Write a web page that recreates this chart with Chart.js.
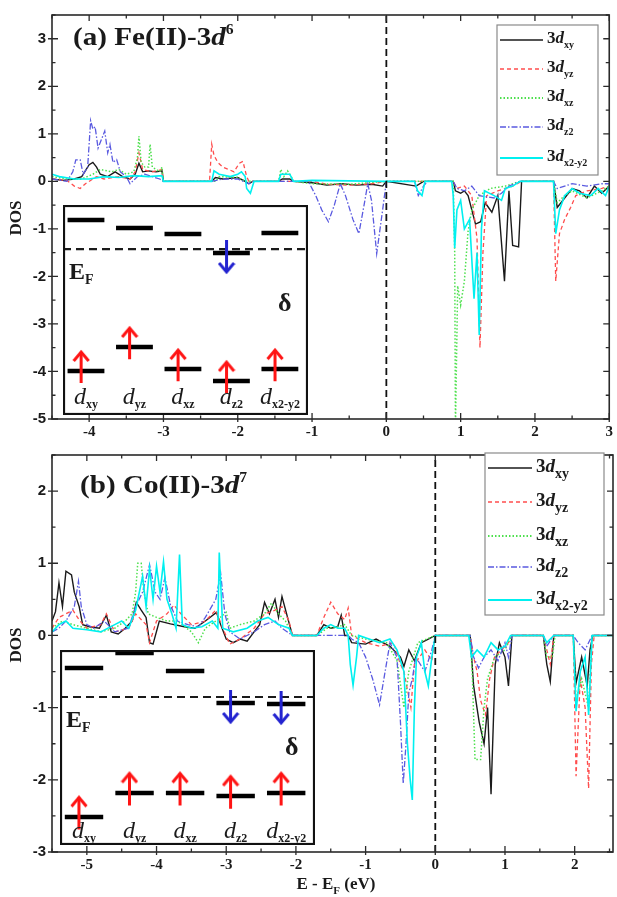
<!DOCTYPE html>
<html>
<head>
<meta charset="utf-8">
<script src="https://cdn.jsdelivr.net/npm/chart.js@4.4.0/dist/chart.umd.min.js"></script>
<style>
html, body { margin: 0; padding: 0; background: #fff; }
#wrap { position: relative; width: 617px; height: 897px; overflow: hidden; }
canvas { position: absolute; }
</style>
</head>
<body>
<div id="wrap">
  <canvas id="chartA" width="617" height="445" style="left:0;top:0"></canvas>
  <canvas id="chartB" width="617" height="457" style="left:0;top:440px"></canvas>
  <canvas id="insetA" width="245" height="210" style="left:63px;top:205px"></canvas>
  <canvas id="insetB" width="255" height="195" style="left:60px;top:650px"></canvas>
</div>
<script>
// PDOS of the 3d orbitals: [E - EF (eV), DOS]
const orbitals = ['xy', 'yz', 'xz', 'z2', 'x2-y2'];

// (a) Fe(II)-3d6
const feXY = [[-4.5,0.05],[-4.35,0.02],[-4.2,0.05],[-4.1,0.1],[-4.0,0.35],[-3.95,0.4],[-3.9,0.3],[-3.85,0.15],[-3.75,0.1],[-3.65,0.2],[-3.55,0.1],[-3.45,0.05],[-3.38,0.15],[-3.33,0.38],[-3.28,0.2],[-3.2,0.22],[-3.1,0.2],[-3.02,0.22],[-3.0,0],[-2.35,0],[-2.3,0.08],[-2.2,0.05],[-2.0,0.08],[-1.9,0.0],[-1.85,-0.05],[-1.8,0],[-1.45,0],[-1.4,0.05],[-1.3,0.05],[-1.25,0],[-1.0,-0.03],[-0.8,-0.08],[-0.6,-0.05],[-0.4,-0.08],[-0.2,-0.06],[-0.05,-0.1],[0,0],[0.4,-0.1],[0.5,0],[0.9,0],[0.93,-0.2],[1.0,-0.25],[1.05,-0.2],[1.1,-0.3],[1.2,-0.9],[1.27,-0.85],[1.33,-0.45],[1.42,-0.65],[1.5,-0.3],[1.59,-2.1],[1.65,-0.2],[1.7,-1.35],[1.78,-1.38],[1.82,0],[2.25,0],[2.3,-0.55],[2.4,-0.35],[2.5,-0.15],[2.6,-0.2],[2.7,-0.35],[2.8,-0.1],[2.9,-0.25],[3.0,-0.1]];
const feYZ = [[-4.5,0.05],[-4.3,0.02],[-4.2,-0.1],[-4.12,-0.15],[-4.05,-0.05],[-3.9,0.1],[-3.8,0.05],[-3.6,0.1],[-3.45,0.05],[-3.38,0.2],[-3.33,0.6],[-3.28,0.25],[-3.15,0.2],[-3.02,0.25],[-3.0,0],[-2.38,0],[-2.35,0.78],[-2.32,0.55],[-2.27,0.4],[-2.2,0.3],[-2.12,0.25],[-2.05,0.2],[-1.98,0.38],[-1.93,0.42],[-1.88,0.1],[-1.85,0],[-1.0,0],[-0.8,-0.06],[-0.5,-0.08],[-0.2,-0.05],[0,0],[0.9,0],[0.95,-0.15],[1.05,-0.1],[1.15,-0.3],[1.22,-1.2],[1.26,-3.5],[1.3,-1.5],[1.35,-0.3],[1.5,-0.2],[1.7,-0.1],[1.82,0],[2.25,0],[2.28,-2.1],[2.33,-1.1],[2.4,-0.8],[2.48,-0.55],[2.55,-0.3],[2.7,-0.2],[2.9,-0.15],[3.0,-0.1]];
const feXZ = [[-4.5,0.1],[-4.3,0.05],[-4.1,0.05],[-3.95,0.15],[-3.85,0.25],[-3.7,0.2],[-3.6,0.25],[-3.5,0.15],[-3.4,0.2],[-3.35,0.5],[-3.33,0.95],[-3.3,0.4],[-3.25,0.3],[-3.2,0.3],[-3.18,0.78],[-3.15,0.3],[-3.05,0.2],[-3.02,0.3],[-3.0,0],[-2.3,0],[-2.25,0.1],[-2.0,0.08],[-1.9,0],[-1.45,0],[-1.42,0.25],[-1.38,0.1],[-1.33,0.22],[-1.28,0.1],[-1.25,0],[-1.0,-0.05],[-0.5,-0.06],[0,0],[0.9,0],[0.92,-1.5],[0.93,-5.2],[0.96,-2.2],[1.0,-2.6],[1.05,-2.1],[1.1,-1.05],[1.15,-0.6],[1.25,-0.3],[1.4,-0.15],[1.6,-0.1],[1.8,0],[2.25,0],[2.3,-0.45],[2.4,-0.3],[2.5,-0.2],[2.7,-0.35],[2.9,-0.2],[3.0,-0.1]];
const feZ2 = [[-4.5,0.05],[-4.3,0.0],[-4.22,0.2],[-4.18,0.45],[-4.12,0.45],[-4.08,0.15],[-4.02,0.3],[-3.98,1.28],[-3.95,1.1],[-3.92,1.15],[-3.88,0.7],[-3.83,0.9],[-3.79,1.06],[-3.75,0.6],[-3.72,0.78],[-3.68,0.4],[-3.63,0.46],[-3.58,0.2],[-3.5,0.1],[-3.45,-0.05],[-3.35,0.1],[-3.25,0.15],[-3.15,0.1],[-3.05,0.05],[-3.0,0],[-2.35,0],[-2.2,0.05],[-2.0,0.05],[-1.85,-0.05],[-1.8,0],[-1.05,0],[-0.95,-0.3],[-0.87,-0.6],[-0.78,-0.85],[-0.7,-0.5],[-0.62,-0.05],[-0.55,-0.3],[-0.45,-0.8],[-0.37,-1.1],[-0.3,-0.5],[-0.25,-0.05],[-0.2,-0.4],[-0.13,-1.52],[-0.05,-0.6],[0,0],[0.38,0],[0.43,-0.3],[0.5,-0.1],[0.55,0],[0.9,0],[0.95,-0.15],[1.05,-0.2],[1.15,-0.1],[1.25,-0.3],[1.45,-0.35],[1.55,-0.25],[1.65,-0.1],[1.8,0],[2.25,0],[2.3,-0.15],[2.5,-0.05],[2.7,-0.1],[2.9,-0.05],[3.0,-0.05]];
const feX2Y2 = [[-4.5,0.15],[-4.4,0.1],[-4.2,0.05],[-4.0,0.05],[-3.8,0.1],[-3.6,0.08],[-3.4,0.12],[-3.2,0.1],[-3.02,0.12],[-3.0,0],[-2.35,0],[-2.32,0.22],[-2.25,0.15],[-2.1,0.1],[-2.0,0.15],[-1.95,0.2],[-1.9,0.1],[-1.88,-0.15],[-1.83,-0.25],[-1.8,-0.1],[-1.78,0],[-1.45,0],[-1.42,0.15],[-1.3,0.15],[-1.25,0],[-1.0,0.02],[0,0],[0.38,0],[0.42,-0.2],[0.48,-0.3],[0.52,0],[0.88,0],[0.9,-0.3],[0.92,-1.4],[0.95,-0.6],[1.0,-0.4],[1.05,-1.0],[1.12,-0.8],[1.18,-2.47],[1.22,-1.5],[1.25,-3.23],[1.28,-1.0],[1.32,-0.2],[1.45,-0.3],[1.55,-0.4],[1.6,-0.15],[1.7,-0.1],[1.8,0],[2.25,0],[2.28,-1.1],[2.33,-0.6],[2.4,-0.3],[2.5,-0.15],[2.6,-0.25],[2.75,-0.3],[2.85,-0.15],[2.95,-0.3],[3.0,-0.1]];

// (b) Co(II)-3d7
const coXY = [[-5.5,0.2],[-5.45,0.33],[-5.4,0.73],[-5.35,0.4],[-5.3,0.89],[-5.22,0.84],[-5.18,0.6],[-5.11,0.4],[-5.06,0.15],[-4.96,0.12],[-4.82,0.1],[-4.72,0.28],[-4.65,0.05],[-4.55,0.02],[-4.45,0.1],[-4.35,0.2],[-4.29,0.46],[-4.22,0.35],[-4.15,0.25],[-4.1,-0.1],[-4.05,-0.12],[-3.96,0.2],[-3.8,0.16],[-3.6,0.12],[-3.45,0.1],[-3.3,0.2],[-3.14,0.32],[-3.08,0.15],[-3.0,-0.05],[-2.9,-0.1],[-2.8,-0.05],[-2.7,-0.08],[-2.6,0.05],[-2.52,0.15],[-2.45,0.46],[-2.38,0.3],[-2.3,0.5],[-2.25,0.25],[-2.2,0.54],[-2.12,0.25],[-2.05,0.0],[-1.7,0],[-1.6,0.15],[-1.5,0.1],[-1.4,0.12],[-1.35,0.28],[-1.3,0],[-1.25,0],[-1.2,-0.1],[-1.0,-0.12],[-0.85,-0.05],[-0.65,-0.15],[-0.5,-0.3],[-0.45,-0.43],[-0.38,-0.2],[-0.3,-0.35],[-0.2,-0.1],[-0.1,-0.05],[0,0],[0.5,0],[0.55,-0.7],[0.63,-1.2],[0.7,-1.5],[0.75,-1.0],[0.8,-2.2],[0.86,-0.4],[0.92,-0.1],[1.0,-0.3],[1.05,-0.7],[1.1,0],[1.55,0],[1.6,-0.4],[1.65,-0.64],[1.7,0],[1.98,0],[2.02,-0.66],[2.1,-0.3],[2.18,-0.7],[2.22,-0.2],[2.26,0],[2.55,0]];
const coYZ = [[-5.5,0.1],[-5.4,0.25],[-5.3,0.3],[-5.2,0.35],[-5.1,0.2],[-5.0,0.1],[-4.8,0.15],[-4.72,0.3],[-4.6,0.05],[-4.4,0.1],[-4.3,0.3],[-4.15,0.15],[-4.1,-0.1],[-4.0,0.2],[-3.85,0.3],[-3.75,0.42],[-3.65,0.3],[-3.5,0.15],[-3.3,0.2],[-3.15,0.35],[-3.05,0.1],[-2.95,-0.12],[-2.8,-0.05],[-2.6,0.1],[-2.45,0.3],[-2.3,0.35],[-2.2,0.4],[-2.1,0.2],[-2.05,0],[-1.7,0],[-1.6,0.25],[-1.5,0.46],[-1.4,0.3],[-1.3,0.22],[-1.25,0.38],[-1.2,0],[-1.0,-0.1],[-0.8,-0.15],[-0.6,-0.1],[-0.5,-0.4],[-0.45,-0.5],[-0.35,-1.0],[-0.3,-0.4],[-0.15,-0.2],[-0.05,-0.35],[0,0],[0.5,0],[0.55,-0.3],[0.6,-0.5],[0.65,-0.9],[0.72,-1.1],[0.78,-0.6],[0.85,-0.3],[0.95,-0.2],[1.05,-0.1],[1.1,0],[1.55,0],[1.6,-0.2],[1.65,-0.4],[1.7,0],[1.98,0],[2.02,-1.95],[2.08,-0.6],[2.15,-1.0],[2.2,-2.12],[2.24,-0.4],[2.28,0],[2.55,0]];
const coXZ = [[-5.5,0.1],[-5.35,0.2],[-5.2,0.15],[-5.0,0.1],[-4.8,0.05],[-4.6,0.1],[-4.45,0.2],[-4.35,0.3],[-4.3,0.6],[-4.27,1.0],[-4.22,1.0],[-4.18,0.6],[-4.12,0.3],[-4.0,0.25],[-3.85,0.2],[-3.7,0.2],[-3.5,0.05],[-3.4,-0.1],[-3.3,0.1],[-3.15,0.2],[-3.0,0.32],[-2.95,0.1],[-2.8,0.15],[-2.6,0.2],[-2.45,0.3],[-2.35,0.45],[-2.25,0.3],[-2.15,0.2],[-2.05,0],[-1.7,0],[-1.55,0.1],[-1.4,0.12],[-1.3,0.15],[-1.2,0],[-1.0,-0.05],[-0.7,-0.1],[-0.55,-0.35],[-0.45,-1.0],[-0.38,-0.5],[-0.25,-0.1],[0,0],[0.5,0],[0.53,-0.5],[0.57,-1.72],[0.65,-1.72],[0.7,-1.0],[0.75,-0.6],[0.85,-0.3],[1.0,-0.2],[1.1,0],[1.55,0],[1.6,-0.3],[1.68,-0.3],[1.72,0],[1.98,0],[2.02,-0.9],[2.1,-0.6],[2.2,-1.0],[2.25,0],[2.55,0]];
const coZ2 = [[-5.5,0.05],[-5.4,0.1],[-5.3,0.2],[-5.18,0.4],[-5.12,0.75],[-5.08,0.4],[-5.0,0.15],[-4.9,0.1],[-4.75,0.2],[-4.6,0.05],[-4.4,0.1],[-4.3,0.4],[-4.2,0.6],[-4.1,0.98],[-4.02,0.6],[-3.95,0.5],[-3.88,0.8],[-3.8,0.42],[-3.7,0.2],[-3.55,0.15],[-3.4,0.12],[-3.3,0.25],[-3.15,0.5],[-3.08,0.86],[-3.02,0.3],[-2.95,0.05],[-2.8,-0.05],[-2.6,0.05],[-2.45,0.15],[-2.3,0.2],[-2.2,0.1],[-2.05,0],[-1.25,0],[-1.2,-0.05],[-1.1,-0.1],[-1.0,-0.3],[-0.9,-0.6],[-0.8,-0.96],[-0.72,-0.5],[-0.65,-0.1],[-0.55,-0.3],[-0.5,-1.2],[-0.46,-2.05],[-0.42,-1.5],[-0.38,-0.8],[-0.33,-0.6],[-0.28,-0.3],[-0.15,-0.5],[-0.05,-0.2],[0,0],[0.5,0],[0.55,-0.3],[0.62,-0.45],[0.7,-0.3],[0.8,-0.2],[0.9,-0.35],[1.0,-0.1],[1.05,-0.3],[1.1,0],[1.55,0],[1.6,-0.15],[1.7,0],[1.98,0],[2.05,-0.1],[2.15,-0.2],[2.25,0],[2.55,0]];
const coX2Y2 = [[-5.5,0.05],[-5.4,0.15],[-5.3,0.2],[-5.2,0.1],[-5.0,0.08],[-4.8,0.05],[-4.6,0.15],[-4.5,0.2],[-4.4,0.1],[-4.3,0.35],[-4.2,0.82],[-4.15,0.4],[-4.1,0.93],[-4.05,0.5],[-4.0,0.96],[-3.95,0.6],[-3.9,1.02],[-3.85,0.5],[-3.78,0.3],[-3.72,0.1],[-3.67,1.12],[-3.63,0.15],[-3.5,0.1],[-3.35,0.12],[-3.2,0.2],[-3.12,0.1],[-3.1,1.15],[-3.05,0.1],[-2.9,0.05],[-2.7,0.1],[-2.55,0.2],[-2.4,0.25],[-2.25,0.15],[-2.1,0.1],[-2.05,0],[-1.7,0],[-1.6,0.1],[-1.5,0.15],[-1.4,0.1],[-1.3,0.1],[-1.25,0],[-1.22,-0.4],[-1.18,-0.69],[-1.13,-0.3],[-1.1,0],[-0.95,-0.05],[-0.8,-0.1],[-0.65,-0.05],[-0.55,-0.2],[-0.45,-0.5],[-0.4,-1.5],[-0.36,-2.0],[-0.33,-2.28],[-0.3,-1.0],[-0.27,-0.3],[-0.2,-0.1],[-0.15,-0.5],[-0.1,-0.7],[-0.05,-0.3],[0,0],[0.48,0],[0.52,-0.3],[0.6,-0.2],[0.7,-0.3],[0.8,-0.1],[0.9,-0.2],[1.0,-0.15],[1.08,0],[1.55,0],[1.6,-0.1],[1.7,0],[1.98,0],[2.02,-1.05],[2.08,-0.5],[2.15,-0.3],[2.2,-1.1],[2.25,0],[2.55,0]];

// energy-level diagrams (arbitrary energy units, 0 = bottom of inset)
const feUpper = [9.29, 8.9, 8.62, 7.71, 8.67];
const feLower = [2.10, 3.24, 2.19, 1.62, 2.19];
const feEF = 7.9;
const feSpinDown = [3];
const coUpper = [9.08, 9.85, 8.92, 7.28, 7.23];
const coLower = [1.44, 2.67, 2.67, 2.51, 2.67];
const coEF = 7.59;
const coSpinDown = [3, 4];

// line styles per orbital
const lineColors = ['#1a1a1a', '#ff4d4d', '#4de04d', '#5a5ae0', '#00f0f0'];
const lineWidths = [1.4, 1.3, 1.5, 1.3, 1.6];
const lineDashes = [[], [4, 3], [1.5, 2], [6, 2, 1.5, 2], []];

const serif = "'Liberation Serif', 'Times New Roman', serif";
const sans = "'Liberation Sans', Arial, sans-serif";

// draw a run of text pieces, return end x
function drawRich(ctx, x, y, parts) {
    parts.forEach(p => {
        ctx.font = p.font;
        ctx.fillText(p.t, x, y + (p.dy || 0));
        x += ctx.measureText(p.t).width;
    });
    return x;
}
function richWidth(ctx, parts) {
    let w = 0;
    parts.forEach(p => { ctx.font = p.font; w += ctx.measureText(p.t).width; });
    return w;
}

// frame, ticks, legend and labels for a DOS panel
const decorPlugin = {
    id: 'decor',
    afterDatasetsDraw(chart, args, o) {
        const ctx = chart.ctx;
        const a = chart.chartArea;
        const xs = chart.scales.x, ys = chart.scales.y;
        ctx.save();
        ctx.strokeStyle = '#2a2a2a';
        ctx.lineWidth = 1.6;
        ctx.strokeRect(a.left, a.top, a.right - a.left, a.bottom - a.top);
        ctx.lineWidth = 1.3;
        ctx.beginPath();
        for (let v = Math.ceil(xs.min * 2) / 2; v <= xs.max + 1e-9; v += 0.5) {
            const px = xs.getPixelForValue(v);
            const major = Math.abs(v - Math.round(v)) < 1e-6;
            const len = major ? 6 : 3.5;
            ctx.moveTo(px, a.bottom + (major ? 3 : 0)); ctx.lineTo(px, a.bottom - len);
            ctx.moveTo(px, a.top); ctx.lineTo(px, a.top + len);
        }
        for (let v = Math.ceil(ys.min * 2) / 2; v <= ys.max + 1e-9; v += 0.5) {
            const py = ys.getPixelForValue(v);
            const major = Math.abs(v - Math.round(v)) < 1e-6;
            const len = major ? 6 : 3.5;
            ctx.moveTo(a.left - (major ? 4 : 0), py); ctx.lineTo(a.left + len, py);
            ctx.moveTo(a.right, py); ctx.lineTo(a.right - len, py);
        }
        ctx.stroke();

        // panel title (the original lettering is a little wide)
        ctx.fillStyle = '#1a1a1a';
        ctx.textBaseline = 'alphabetic';
        ctx.save();
        ctx.translate(o.title.x, o.title.y);
        ctx.scale(1.12, 1);
        drawRich(ctx, 0, 0, [
            { t: o.title.text, font: 'bold 26px ' + serif },
            { t: 'd', font: 'italic bold 26px ' + serif },
            { t: o.title.sup, font: 'bold 14px ' + serif, dy: -11 }
        ]);
        ctx.restore();

        // DOS axis title
        ctx.save();
        ctx.translate(o.yTitle.x, o.yTitle.y);
        ctx.rotate(-Math.PI / 2);
        ctx.font = 'bold 17px ' + serif;
        ctx.textAlign = 'center';
        ctx.fillText('DOS', 0, 0);
        ctx.restore();

        // energy axis title
        if (o.xTitle) {
            const parts = [
                { t: 'E - E', font: 'bold 17px ' + serif },
                { t: 'F', font: 'bold 11px ' + serif, dy: 5 },
                { t: ' (eV)', font: 'bold 17px ' + serif }
            ];
            drawRich(ctx, o.xTitle.x - richWidth(ctx, parts) / 2, o.xTitle.y, parts);
        }

        // legend
        const L = o.legend;
        ctx.fillStyle = '#fff';
        ctx.fillRect(L.x0, L.y0, L.x1 - L.x0, L.y1 - L.y0);
        ctx.strokeStyle = '#8a8a8a';
        ctx.lineWidth = 1.2;
        ctx.strokeRect(L.x0, L.y0, L.x1 - L.x0, L.y1 - L.y0);
        chart.data.datasets.slice(0, orbitals.length).forEach((ds, k) => {
            const y = L.rows[k];
            ctx.strokeStyle = ds.borderColor;
            ctx.lineWidth = ds.borderWidth + 0.3;
            ctx.setLineDash(ds.borderDash);
            ctx.beginPath();
            ctx.moveTo(L.s0, y); ctx.lineTo(L.s1, y);
            ctx.stroke();
            ctx.setLineDash([]);
            ctx.fillStyle = '#1a1a1a';
            drawRich(ctx, L.tx, y + L.size * 0.2, [
                { t: '3', font: 'bold ' + L.size + 'px ' + serif },
                { t: 'd', font: 'italic bold ' + L.size + 'px ' + serif },
                { t: orbitals[k], font: 'bold ' + L.sub + 'px ' + serif, dy: L.sub * 0.45 }
            ]);
        });
        ctx.restore();
    }
};

function makePanel(id, series, cfg) {
    const datasets = series.map((s, k) => ({
        label: '3d' + orbitals[k],
        data: s.map(p => ({ x: p[0], y: p[1] })),
        borderColor: lineColors[k],
        borderWidth: lineWidths[k],
        borderDash: lineDashes[k],
        pointRadius: 0,
        tension: 0,
        fill: false,
        order: orbitals.length - k
    }));
    // Fermi level
    datasets.push({
        label: 'EF',
        data: [{ x: 0, y: cfg.yMin }, { x: 0, y: cfg.yMax }],
        borderColor: '#111',
        borderWidth: 1.8,
        borderDash: [7, 4],
        pointRadius: 0,
        order: 0
    });
    const intTicks = (lo, hi) => {
        const t = [];
        for (let v = Math.ceil(lo); v <= Math.floor(hi); v++) t.push({ value: v });
        return t;
    };
    return new Chart(document.getElementById(id), {
        type: 'line',
        data: { datasets: datasets },
        options: {
            responsive: false,
            animation: false,
            events: [],
            layout: { padding: { top: cfg.padTop, right: 4, left: 0, bottom: 0 } },
            plugins: {
                legend: { display: false },
                tooltip: { enabled: false },
                decor: cfg.decor
            },
            scales: {
                x: {
                    type: 'linear',
                    min: cfg.xMin,
                    max: cfg.xMax,
                    afterBuildTicks: s => { s.ticks = intTicks(cfg.xMin, cfg.xMax); },
                    afterFit: s => { s.height = cfg.xHeight; },
                    grid: { display: false, drawTicks: false },
                    border: { display: false },
                    ticks: {
                        autoSkip: false,
                        maxRotation: 0,
                        padding: 4,
                        color: '#1a1a1a',
                        font: { family: serif, weight: 'bold', size: 15 }
                    }
                },
                y: {
                    min: cfg.yMin,
                    max: cfg.yMax,
                    afterBuildTicks: s => { s.ticks = intTicks(cfg.yMin, cfg.yMax); },
                    afterFit: s => { s.width = 52; },
                    grid: { display: false, drawTicks: false },
                    border: { display: false },
                    ticks: {
                        padding: 6,
                        color: '#1a1a1a',
                        font: { family: sans, weight: 'bold', size: 15 }
                    }
                }
            }
        },
        plugins: [decorPlugin]
    });
}

makePanel('chartA', [feXY, feYZ, feXZ, feZ2, feX2Y2], {
    xMin: -4.5, xMax: 3, yMin: -5, yMax: 3.5, padTop: 14, xHeight: 26,
    decor: {
        title: { x: 73, y: 45, text: '(a) Fe(II)-3', sup: '6' },
        yTitle: { x: 21, y: 218 },
        legend: { x0: 497, y0: 25, x1: 598, y1: 175, rows: [40, 69, 98, 127, 158], s0: 500, s1: 543, tx: 547, size: 17, sub: 10 }
    }
});
makePanel('chartB', [coXY, coYZ, coXZ, coZ2, coX2Y2], {
    xMin: -5.5, xMax: 2.55, yMin: -3, yMax: 2.5, padTop: 8, xHeight: 45,
    decor: {
        title: { x: 80, y: 53, text: '(b) Co(II)-3', sup: '7' },
        yTitle: { x: 21, y: 205 },
        xTitle: { x: 336, y: 449 },
        legend: { x0: 485, y0: 13, x1: 604, y1: 175, rows: [28, 62, 96, 127, 160], s0: 488, s1: 532, tx: 536, size: 19, sub: 14 }
    }
});

// ---------- inset level diagrams ----------
function chevron(color, down) {
    const c = document.createElement('canvas');
    c.width = 18; c.height = 24;
    const g = c.getContext('2d');
    g.strokeStyle = color;
    g.lineWidth = 3;
    g.beginPath();
    if (down) { g.moveTo(1.5, 3); g.lineTo(9, 12); g.lineTo(16.5, 3); }
    else { g.moveTo(1.5, 21); g.lineTo(9, 12); g.lineTo(16.5, 21); }
    g.stroke();
    return c;
}
const upHead = chevron('#ff1414', false);
const downHead = chevron('#2323d0', true);

const insetPlugin = {
    id: 'insetDecor',
    beforeDraw(chart) {
        const a = chart.chartArea;
        chart.ctx.save();
        chart.ctx.fillStyle = '#fff';
        chart.ctx.fillRect(a.left, a.top, a.right - a.left, a.bottom - a.top);
        chart.ctx.restore();
    },
    afterDraw(chart, args, o) {
        const ctx = chart.ctx;
        const a = chart.chartArea;
        const xs = chart.scales.x, ys = chart.scales.y;
        ctx.save();
        ctx.fillStyle = '#1a1a1a';
        // orbital labels
        orbitals.forEach((name, i) => {
            const parts = [
                { t: 'd', font: 'italic 24px ' + serif },
                { t: name, font: 'bold 12px ' + serif, dy: 4 }
            ];
            drawRich(ctx, xs.getPixelForValue(i) - richWidth(ctx, parts) / 2, a.bottom - o.labelLift, parts);
        });
        const efPx = ys.getPixelForValue(o.ef);
        drawRich(ctx, a.left + 6, efPx + 30, [
            { t: 'E', font: 'bold 24px ' + serif },
            { t: 'F', font: 'bold 14px ' + serif, dy: 5 }
        ]);
        ctx.font = 'bold 26px ' + serif;
        ctx.fillText('\u03b4', a.right - 30, efPx + o.deltaDrop);
        ctx.strokeStyle = '#111';
        ctx.lineWidth = 2.2;
        ctx.strokeRect(a.left + 1, a.top + 1, a.right - a.left - 2, a.bottom - a.top - 2);
        ctx.restore();
    }
};

function makeInset(id, upper, lower, ef, spinDown, cfg) {
    const half = 0.38, shift = -0.1;
    const levels = [];
    upper.concat(lower).forEach((e, k) => {
        const i = k % upper.length;
        levels.push({ x: i - half, y: e }, { x: i + half, y: e }, { x: i + half, y: null });
    });
    const ups = [];
    lower.forEach((e, i) => {
        ups.push({ x: i + shift, y: e + cfg.up[0] }, { x: i + shift, y: e + cfg.up[1], head: true }, { x: i + shift, y: null });
    });
    const downs = [];
    spinDown.forEach(i => {
        downs.push({ x: i + shift, y: upper[i] + cfg.down[0] }, { x: i + shift, y: upper[i] + cfg.down[1], head: true }, { x: i + shift, y: null });
    });
    const headRadius = c => (c.raw && c.raw.head ? 6 : 0);
    return new Chart(document.getElementById(id), {
        type: 'line',
        data: {
            datasets: [
                { data: ups, borderColor: '#ff1414', borderWidth: 3, pointRadius: headRadius, pointStyle: upHead, spanGaps: false, order: 0 },
                { data: downs, borderColor: '#2323d0', borderWidth: 3, pointRadius: headRadius, pointStyle: downHead, spanGaps: false, order: 0 },
                { data: levels, borderColor: '#000', borderWidth: 4.5, pointRadius: 0, spanGaps: false, order: 1 },
                { data: [{ x: cfg.xMin, y: ef }, { x: cfg.xMax, y: ef }], borderColor: '#1a1a1a', borderWidth: 2.2, borderDash: [8, 5], pointRadius: 0, order: 2 }
            ]
        },
        options: {
            responsive: false,
            animation: false,
            events: [],
            layout: { padding: 0 },
            plugins: {
                legend: { display: false },
                tooltip: { enabled: false },
                insetDecor: { ef: ef, labelLift: cfg.labelLift, deltaDrop: cfg.deltaDrop }
            },
            scales: {
                x: { type: 'linear', display: false, min: cfg.xMin, max: cfg.xMax },
                y: { display: false, min: 0, max: 10 }
            }
        },
        plugins: [insetPlugin]
    });
}

makeInset('insetA', feUpper, feLower, feEF, feSpinDown, {
    xMin: -0.474, xMax: 4.58, up: [-0.58, 0.9], down: [0.62, -0.9], labelLift: 11, deltaDrop: 62
});
makeInset('insetB', coUpper, coLower, coEF, coSpinDown, {
    xMin: -0.475, xMax: 4.57, up: [-0.65, 1.0], down: [0.67, -0.97], labelLift: 7, deltaDrop: 58
});
</script>
</body>
</html>
